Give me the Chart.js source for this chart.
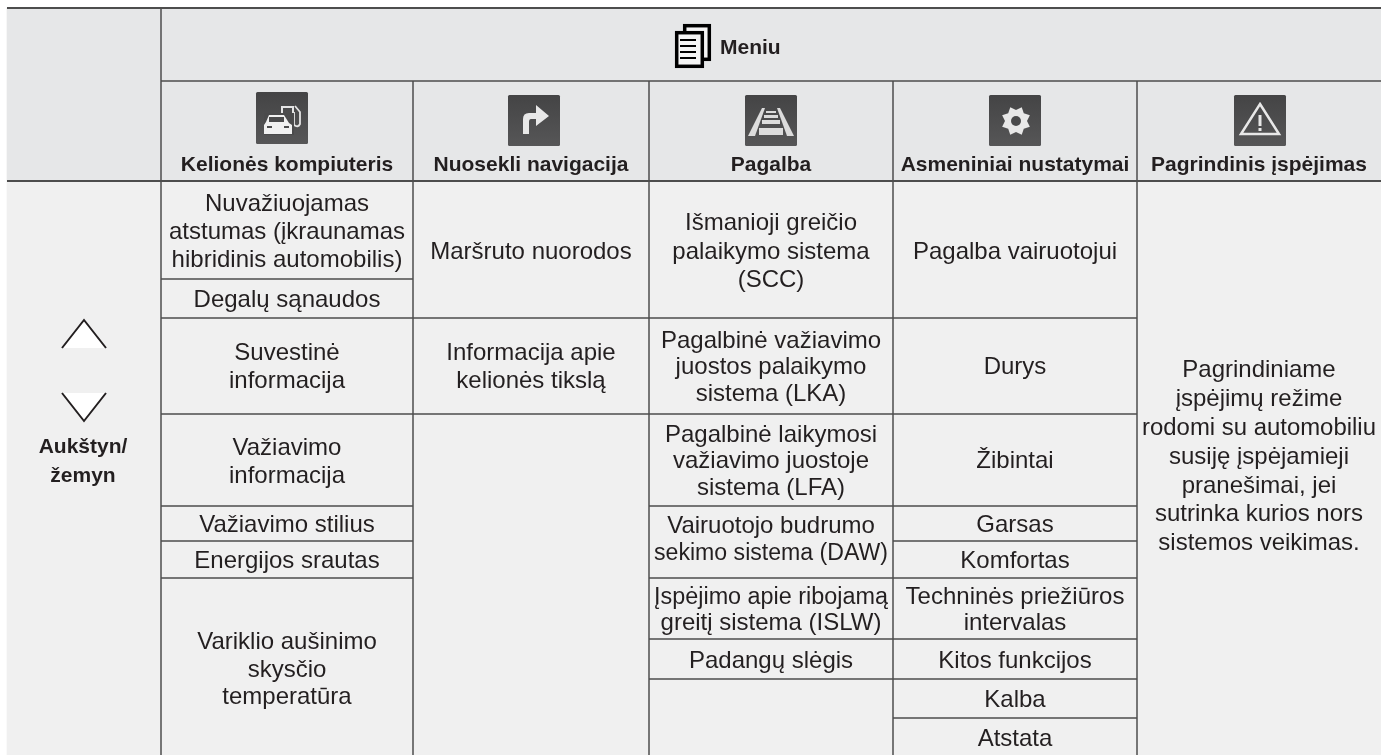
<!DOCTYPE html>
<html><head><meta charset="utf-8">
<style>html,body{margin:0;padding:0;background:#fff}#w{position:absolute;left:0;top:0;width:1381px;height:755px}</style>
<script src="https://cdn.jsdelivr.net/npm/chart.js@4"></script></head>
<body><div id="w"><canvas id="c" width="1381" height="755"></canvas></div>
<script>
// Column edges and column titles
const columnEdges = [161, 413, 649, 893, 1137, 1381];
const columnTitles = ['Kelionės kompiuteris','Nuosekli navigacija','Pagalba','Asmeniniai nustatymai','Pagrindinis įspėjimas'];
// Row edges per column
const col1Edges = [181, 279, 318, 414, 506, 541, 578, 755];
const col2Edges = [181, 318, 414, 755];
const col3Edges = [181, 318, 414, 506, 578, 639, 679, 755];
const col4Edges = [181, 318, 414, 506, 541, 578, 639, 679, 718, 755];
const col5Edges = [181, 755];
// Cell labels per column
const col1Labels = [['Nuvažiuojamas','atstumas (įkraunamas','hibridinis automobilis)'],['Degalų sąnaudos'],['Suvestinė','informacija'],['Važiavimo','informacija'],['Važiavimo stilius'],['Energijos srautas'],['Variklio aušinimo','skysčio','temperatūra']];
const col2Labels = [['Maršruto nuorodos'],['Informacija apie','kelionės tikslą'],[]];
const col3Labels = [['Išmanioji greičio','palaikymo sistema','(SCC)'],['Pagalbinė važiavimo','juostos palaikymo','sistema (LKA)'],['Pagalbinė laikymosi','važiavimo juostoje','sistema (LFA)'],['Vairuotojo budrumo','sekimo sistema (DAW)'],['Įspėjimo apie ribojamą','greitį sistema (ISLW)'],['Padangų slėgis'],[]];
const col4Labels = [['Pagalba vairuotojui'],['Durys'],['Žibintai'],['Garsas'],['Komfortas'],['Techninės priežiūros','intervalas'],['Kitos funkcijos'],['Kalba'],['Atstata']];
const col5Labels = [['Pagrindiniame','įspėjimų režime','rodomi su automobiliu','susiję įspėjamieji','pranešimai, jei','sutrinka kurios nors','sistemos veikimas.']];
// Text line centres per cell
const col1LineY = [[204.5,232.5,260.5],[300.5],[353.5,381.5],[448.5,476],[525],[561],[642,670,697.5]];
const col2LineY = [[252],[353.5,381.5],[]];
const col3LineY = [[223,252,280.5],[341,367,394.5],[435.5,461.5,488.5],[526.5,553.5],[597.5,623.5],[661.5],[]];
const col4LineY = [[252],[367],[461.5],[525],[561],[597.5,623.5],[661.5],[700],[739]];
const col5LineY = [[370,399,428,457,486,514.5,543.5]];
const menuTitle = 'Meniu';
const sideLabels = ['Aukštyn/','žemyn'];
const sideLineY = [447.5,476];

const columns = [
  {edges:col1Edges,labels:col1Labels,ys:col1LineY},{edges:col2Edges,labels:col2Labels,ys:col2LineY},
  {edges:col3Edges,labels:col3Labels,ys:col3LineY},{edges:col4Edges,labels:col4Labels,ys:col4LineY},{edges:col5Edges,labels:col5Labels,ys:col5LineY}];

const TEXT='#231f20', LINE='#4d4d4d', FONT='"Liberation Sans", Arial, sans-serif';
const HEAD_BG='#e6e7e8', BODY_BG='#f0f0f0';
const TOP=8, MID=81, HEAD=181, BOTTOM=755, LEFT=7, RIGHT=1381;

function bar(x0,x1,y0,y1,color){
  return {type:'bar',data:[{x:(x0+x1)/2,y:[y0,y1]}],barThickness:x1-x0,backgroundColor:color,borderWidth:0,grouped:false,order:5};
}
function seg(x0,y0,x1,y1,w){
  return {type:'line',data:[{x:x0,y:y0},{x:x1,y:y1}],borderColor:LINE,borderWidth:w,pointRadius:0,tension:0,fill:false,order:1};
}
const datasets=[
  bar(LEFT,RIGHT,TOP,HEAD,HEAD_BG),
  bar(LEFT,RIGHT,HEAD,BOTTOM,BODY_BG),
  seg(LEFT,TOP,RIGHT,TOP,2),
  seg(LEFT,HEAD,RIGHT,HEAD,2),
  seg(columnEdges[0],MID,RIGHT,MID,1.5),
  seg(columnEdges[0],TOP,columnEdges[0],BOTTOM,1.5)
];
columnEdges.slice(1,5).forEach(x=>datasets.push(seg(x,MID,x,BOTTOM,1.5)));
columns.forEach((c,i)=>{
  c.edges.slice(1,-1).forEach(y=>datasets.push(seg(columnEdges[i],y,columnEdges[i+1],y,1.5)));
});

const iconXs=[256,508,745,989,1234];
const iconYs=[92,95,95,95,95];
function iconBox(ctx,x,y,w,h){
  const g=ctx.createLinearGradient(0,y,0,y+h);g.addColorStop(0,'#444445');g.addColorStop(1,'#565657');
  ctx.fillStyle=g;ctx.beginPath();ctx.roundRect(x,y,w,h,1.5);ctx.fill();
}
const DARK='#4a4a4b';
const icons=[
 (c,x,y)=>{ // car + pump
  c.fillStyle='#e4e4e4';c.strokeStyle='#e4e4e4';c.lineWidth=2;
  c.strokeRect(x+26,y+15,11,11);c.fillRect(x+26,y+25,11,16);
  c.lineWidth=1.8;c.beginPath();c.moveTo(x+39,y+14);c.lineTo(x+44,y+20);c.lineTo(x+44,y+32);c.quadraticCurveTo(x+42,y+36,x+38,y+33);c.lineTo(x+38,y+20);c.stroke();
  c.fillStyle=DARK;c.fillRect(x+8,y+21,30,22);
  c.fillStyle='#f0f0f0';c.beginPath();c.moveTo(x+13,y+23);c.lineTo(x+28,y+23);c.lineTo(x+33,y+31);c.lineTo(x+36,y+33);c.lineTo(x+36,y+42);c.lineTo(x+8,y+42);c.lineTo(x+8,y+33);c.lineTo(x+10,y+30);c.closePath();c.fill();
  c.fillStyle=DARK;c.fillRect(x+13,y+25,15,5);c.fillRect(x+11,y+34,5,2);c.fillRect(x+28,y+34,5,2);},
 (c,x,y)=>{ // turn arrow
  c.fillStyle='#e8e8e8';c.beginPath();c.moveTo(x+15,y+39);c.lineTo(x+15,y+24);c.quadraticCurveTo(x+15,y+18,x+21,y+18);c.lineTo(x+28,y+18);c.lineTo(x+28,y+10);c.lineTo(x+41,y+21);c.lineTo(x+28,y+31);c.lineTo(x+28,y+24);c.lineTo(x+23,y+24);c.quadraticCurveTo(x+21,y+24,x+21,y+27);c.lineTo(x+21,y+39);c.closePath();c.fill();},
 (c,x,y)=>{ // lane
  c.fillStyle='#dcdcdc';
  c.beginPath();c.moveTo(x+3,y+41);c.lineTo(x+17,y+13);c.lineTo(x+20,y+13);c.lineTo(x+10,y+41);c.closePath();c.fill();
  c.beginPath();c.moveTo(x+49,y+41);c.lineTo(x+35,y+13);c.lineTo(x+32,y+13);c.lineTo(x+42,y+41);c.closePath();c.fill();
  [[14,33,24,7],[17,25,18,4],[19,20,14,3],[21,16,10,2]].forEach(r=>c.fillRect(x+r[0],y+r[1],r[2],r[3]));},
 (c,x,y)=>{ // gear
  const cx=x+27,cy=y+26;c.fillStyle='#e8e8e8';c.beginPath();
  for(let i=0;i<16;i++){const r=i%2?15:11,a=i*Math.PI/8;c.lineTo(cx+r*Math.cos(a),cy+r*Math.sin(a));}
  c.closePath();c.fill();c.fillStyle=DARK;c.beginPath();c.arc(cx,cy,5,0,7);c.fill();},
 (c,x,y)=>{ // warning
  c.strokeStyle='#e8e8e8';c.lineWidth=2.5;c.beginPath();c.moveTo(x+26,y+9);c.lineTo(x+45,y+39);c.lineTo(x+7,y+39);c.closePath();c.stroke();
  c.fillStyle='#e8e8e8';c.fillRect(x+24.5,y+20,3,11);c.fillRect(x+24.5,y+33,3,3);}
];
const tablePlugin={id:'table',afterDatasetsDraw(chart){
  const c=chart.ctx,X=chart.scales.x,Y=chart.scales.y;
  c.save();c.textAlign='center';c.textBaseline='middle';c.fillStyle=TEXT;
  // body cells: shrink any line that would crowd its cell
  columns.forEach((col,i)=>{
    const cx=X.getPixelForValue((columnEdges[i]+columnEdges[i+1])/2);
    const room=columnEdges[i+1]-columnEdges[i]-10;
    col.labels.forEach((l,k)=>{
      l.forEach((t,n)=>{
        c.font='24px '+FONT;
        const w=c.measureText(t).width;
        if(w>room) c.font=(24*room/w).toFixed(2)+'px '+FONT;
        c.fillText(t,cx,Y.getPixelForValue(col.ys[k][n]));
      });
    });
  });
  // column titles
  c.font='bold 21px '+FONT;
  columnTitles.forEach((t,i)=>c.fillText(t,X.getPixelForValue((columnEdges[i]+columnEdges[i+1])/2),Y.getPixelForValue(165.5)));
  sideLabels.forEach((t,i)=>c.fillText(t,X.getPixelForValue(83),Y.getPixelForValue(sideLineY[i])));
  c.textAlign='left';c.fillText(menuTitle,X.getPixelForValue(720),Y.getPixelForValue(48.5));
  // icons
  columnTitles.forEach((t,i)=>{
    const x=iconXs[i],y=iconYs[i];
    iconBox(c,x,y,52,i===0?52:51);icons[i](c,x,y);
  });
  // menu icon
  c.lineWidth=3.5;c.strokeStyle='#000';c.fillStyle='#f5f5f5';
  c.fillRect(684,25,26,34);c.strokeRect(684.7,25.7,24.6,33.6);
  c.fillRect(676,32,27,34);c.strokeRect(676.7,32.7,25.6,33.6);c.lineWidth=2;
  [40,46,52,58].forEach(y=>{c.beginPath();c.moveTo(680,y);c.lineTo(696,y);c.stroke();});
  // chevrons
  c.strokeStyle='#231f20';c.lineWidth=2;c.fillStyle='#fff';c.lineJoin='miter';
  [[62,348,84,320,106,348],[62,393,84,421,106,393]].forEach(p=>{
    c.beginPath();c.moveTo(p[0],p[1]);c.lineTo(p[2],p[3]);c.lineTo(p[4],p[5]);c.closePath();c.fill();
    c.beginPath();c.moveTo(p[0],p[1]);c.lineTo(p[2],p[3]);c.lineTo(p[4],p[5]);c.stroke();
  });
  c.restore();
}};
new Chart(document.getElementById('c'),{
  type:'bar',
  data:{datasets},
  options:{responsive:false,animation:false,
    layout:{padding:0},
    plugins:{legend:{display:false},tooltip:{enabled:false},title:{display:false}},
    scales:{
      x:{type:'linear',min:0,max:1381,display:false,offset:false},
      y:{type:'linear',min:0,max:755,reverse:true,display:false}
    }},
  plugins:[tablePlugin]
});
</script></body></html>
